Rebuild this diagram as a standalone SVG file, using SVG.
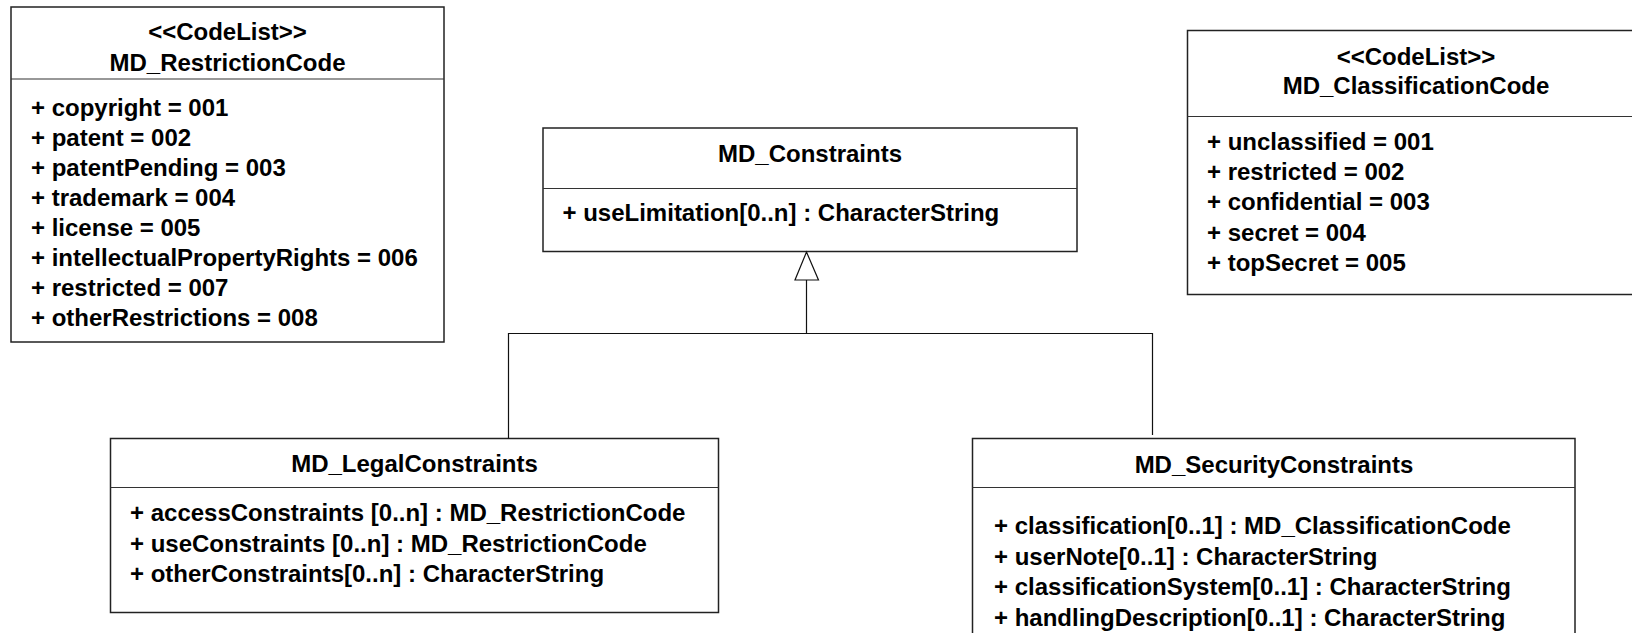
<svg xmlns="http://www.w3.org/2000/svg" width="1632" height="633" viewBox="0 0 1632 633">
<style>
.box{fill:#fff;stroke:#222;stroke-width:1.5}
.div{stroke:#333;stroke-width:1.2}
text{font-family:"Liberation Sans",Arial,sans-serif;font-weight:bold;font-size:24px;fill:#000}
.c{text-anchor:middle}
.conn{fill:none;stroke:#111;stroke-width:1.2}
.gen{fill:#fff;stroke:#111;stroke-width:1.2}
</style>
<rect width="1632" height="633" fill="#fff"/>
<g id="MD_RestrictionCode">
<rect class="box" x="11" y="7" width="433" height="335"/>
<line class="div" x1="11" y1="79" x2="444" y2="79"/>
<text class="c" x="227.5" y="40">&lt;&lt;CodeList&gt;&gt;</text>
<text class="c" x="227.5" y="71">MD_RestrictionCode</text>
<text x="31" y="115.5">+ copyright = 001</text>
<text x="31" y="145.5">+ patent = 002</text>
<text x="31" y="175.5">+ patentPending = 003</text>
<text x="31" y="205.5">+ trademark = 004</text>
<text x="31" y="235.5">+ license = 005</text>
<text x="31" y="265.5">+ intellectualPropertyRights = 006</text>
<text x="31" y="295.5">+ restricted = 007</text>
<text x="31" y="325.5">+ otherRestrictions = 008</text>
</g>
<g id="MD_ClassificationCode">
<rect class="box" x="1187.5" y="30.5" width="460" height="264"/>
<line class="div" x1="1187.5" y1="116.5" x2="1647" y2="116.5"/>
<text class="c" x="1416" y="65">&lt;&lt;CodeList&gt;&gt;</text>
<text class="c" x="1416" y="94">MD_ClassificationCode</text>
<text x="1207" y="149.5">+ unclassified = 001</text>
<text x="1207" y="180">+ restricted = 002</text>
<text x="1207" y="210">+ confidential = 003</text>
<text x="1207" y="240.5">+ secret = 004</text>
<text x="1207" y="270.5">+ topSecret = 005</text>
</g>
<g id="MD_Constraints">
<rect class="box" x="543" y="128" width="534" height="123.5"/>
<line class="div" x1="543" y1="188.5" x2="1077" y2="188.5"/>
<text class="c" x="810" y="161.5">MD_Constraints</text>
<text x="562.5" y="221">+ useLimitation[0..n] : CharacterString</text>
</g>
<g id="MD_LegalConstraints">
<rect class="box" x="110.5" y="438.5" width="608" height="174"/>
<line class="div" x1="110.5" y1="487.5" x2="718.5" y2="487.5"/>
<text class="c" x="414.5" y="472">MD_LegalConstraints</text>
<text x="130" y="521">+ accessConstraints [0..n] : MD_RestrictionCode</text>
<text x="130" y="551.5">+ useConstraints [0..n] : MD_RestrictionCode</text>
<text x="130" y="582">+ otherConstraints[0..n] : CharacterString</text>
</g>
<g id="MD_SecurityConstraints">
<rect class="box" x="972.5" y="438.5" width="602.5" height="220"/>
<line class="div" x1="972.5" y1="487.5" x2="1575" y2="487.5"/>
<text class="c" x="1274" y="472.5">MD_SecurityConstraints</text>
<text x="994" y="534">+ classification[0..1] : MD_ClassificationCode</text>
<text x="994" y="564.5">+ userNote[0..1] : CharacterString</text>
<text x="994" y="595">+ classificationSystem[0..1] : CharacterString</text>
<text x="994" y="625.5">+ handlingDescription[0..1] : CharacterString</text>
</g>
<g id="connectors">
<polyline class="conn" points="508.5,438.5 508.5,333.5 1152.5,333.5 1152.5,435"/>
<line class="conn" x1="806.5" y1="333.5" x2="806.5" y2="280"/>
<polygon class="gen" points="806.5,252 795,280 818.5,280"/>
</g>
</svg>
